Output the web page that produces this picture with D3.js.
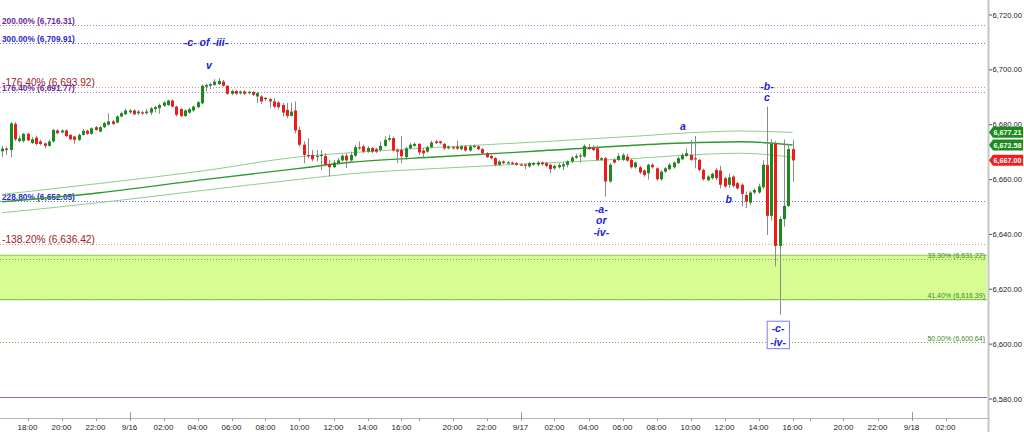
<!DOCTYPE html>
<html><head><meta charset="utf-8">
<script src="https://cdn.jsdelivr.net/npm/d3@7"></script>
<style>html,body{margin:0;padding:0;background:#fff;overflow:hidden}svg{display:block;font-family:"Liberation Sans",Arial,sans-serif}</style>
</head><body><svg id="c" width="1024" height="432"></svg>
<script>
// ---------- DATA (15-minute bars, index 0..186) ----------
const opens = [6670.3,6671.3,6670.8,6680.3,6674.0,6674.0,6676.7,6673.3,6675.3,6673.9,6673.2,6672.3,6673.9,6677.9,6677.2,6677.9,6676.3,6675.7,6674.5,6676.3,6677.8,6676.7,6679.1,6677.5,6679.1,6680.0,6681.2,6680.8,6683.0,6683.8,6684.5,6685.2,6684.2,6684.5,6684.2,6684.4,6685.7,6686.0,6686.9,6687.2,6688.8,6686.6,6685.7,6683.2,6684.4,6685.2,6686.4,6687.8,6693.9,6694.2,6694.5,6694.8,6695.7,6694.2,6691.3,6692.3,6691.5,6692.1,6691.5,6691.9,6690.3,6690.3,6689.3,6689.3,6688.5,6688.1,6687.2,6685.4,6683.2,6685.2,6678.1,6672.7,6669.0,6669.0,6668.4,6668.6,6668.6,6665.6,6664.5,6666.0,6667.0,6668.7,6667.0,6668.7,6671.8,6672.1,6670.2,6671.5,6671.1,6670.8,6672.3,6674.5,6675.1,6670.8,6670.8,6668.2,6671.4,6672.3,6673.0,6670.6,6670.2,6671.8,6673.9,6673.9,6673.0,6671.4,6671.8,6672.0,6671.1,6672.1,6670.6,6672.1,6672.1,6671.1,6669.6,6668.6,6667.8,6665.4,6666.6,6666.1,6666.2,6666.0,6665.5,6665.5,6664.8,6665.4,6665.4,6666.2,6666.0,6665.4,6664.1,6664.5,6664.8,6665.4,6666.6,6668.0,6668.6,6668.4,6671.8,6671.6,6671.4,6667.2,6667.8,6659.3,6667.2,6667.2,6667.2,6668.4,6667.2,6664.5,6664.5,6663.3,6662.3,6665.4,6664.1,6660.1,6662.9,6663.8,6664.5,6666.0,6667.4,6668.6,6669.0,6667.8,6667.2,6663.5,6659.8,6660.5,6663.5,6663.3,6660.5,6658.1,6661.1,6658.7,6658.1,6654.4,6651.6,6655.3,6655.3,6657.2,6665.3,6646.8,6673.0,6635.8,6645.6,6650.4,6671.1];
const highs = [6672.3,6672.0,6681.0,6681.0,6676.0,6677.0,6677.0,6675.5,6676.0,6674.5,6673.5,6674.5,6678.5,6678.3,6678.3,6678.3,6676.5,6676.0,6676.8,6678.5,6678.2,6679.0,6679.5,6679.5,6681.0,6684.2,6681.8,6683.5,6684.8,6685.8,6685.8,6685.6,6685.3,6685.0,6685.8,6686.5,6687.0,6687.7,6688.6,6689.2,6689.2,6687.0,6686.0,6685.6,6686.2,6687.0,6688.6,6694.6,6695.0,6695.3,6696.6,6697.0,6696.3,6694.5,6692.8,6692.6,6692.5,6692.5,6692.4,6692.3,6692.0,6690.8,6690.0,6689.8,6689.7,6688.6,6687.9,6687.9,6687.9,6688.5,6679.3,6673.9,6675.1,6670.8,6670.8,6670.8,6669.6,6667.2,6667.2,6667.8,6669.2,6669.6,6670.2,6672.7,6673.9,6672.7,6672.2,6672.0,6671.6,6673.9,6675.7,6676.3,6675.7,6671.4,6675.9,6672.0,6673.3,6673.6,6673.3,6671.4,6672.4,6674.2,6674.5,6674.2,6673.4,6672.4,6672.2,6674.2,6672.5,6672.5,6672.7,6672.8,6672.6,6671.5,6670.0,6669.0,6668.2,6667.0,6667.0,6666.8,6666.6,6666.4,6665.9,6665.8,6666.4,6666.5,6666.8,6666.6,6666.4,6665.8,6665.5,6666.0,6666.4,6667.0,6668.6,6669.4,6669.6,6672.8,6673.0,6672.5,6672.4,6668.3,6668.3,6666.0,6667.8,6669.6,6669.6,6669.4,6667.6,6666.6,6664.9,6663.7,6665.8,6666.0,6664.5,6663.4,6664.6,6666.0,6666.6,6668.3,6669.6,6671.4,6674.5,6675.9,6667.6,6664.0,6661.6,6662.6,6664.1,6665.0,6661.0,6662.2,6661.6,6659.2,6658.6,6655.6,6655.8,6656.8,6658.5,6667.0,6686.6,6674.7,6674.0,6646.5,6674.6,6673.0,6674.5];
const lows = [6668.2,6669.0,6668.2,6674.0,6673.5,6673.5,6674.0,6673.0,6672.5,6672.5,6671.4,6672.0,6673.5,6676.5,6676.8,6675.5,6674.3,6673.0,6674.0,6676.0,6676.3,6676.3,6677.8,6677.2,6678.7,6679.7,6679.8,6680.5,6682.7,6683.5,6684.0,6683.5,6683.5,6683.6,6683.8,6683.5,6684.5,6684.0,6686.5,6686.8,6686.3,6683.0,6682.8,6682.8,6684.0,6684.8,6686.0,6687.5,6692.1,6693.0,6694.2,6694.5,6693.8,6690.8,6690.8,6690.8,6691.0,6690.8,6691.0,6690.5,6687.9,6687.5,6688.6,6686.0,6686.0,6685.5,6683.0,6682.4,6683.0,6676.9,6672.0,6666.0,6667.8,6666.6,6666.6,6663.5,6664.8,6661.1,6664.2,6665.4,6666.6,6664.2,6666.2,6668.2,6670.8,6669.6,6669.8,6669.6,6669.6,6670.2,6672.0,6673.9,6670.2,6666.0,6666.0,6667.2,6671.0,6671.8,6669.0,6668.2,6669.8,6671.4,6673.0,6672.8,6670.8,6671.0,6671.0,6670.8,6670.7,6670.2,6670.2,6671.5,6670.8,6669.2,6667.8,6667.4,6664.8,6665.0,6665.6,6665.6,6665.3,6665.0,6665.0,6663.8,6664.4,6665.0,6664.8,6665.0,6664.4,6662.3,6663.5,6664.0,6663.4,6664.5,6666.0,6667.5,6666.2,6668.0,6670.8,6670.3,6666.8,6666.8,6653.8,6658.8,6665.8,6666.8,6666.8,6666.5,6664.0,6664.0,6662.0,6661.0,6660.0,6664.0,6659.6,6659.6,6662.4,6663.4,6664.0,6665.6,6667.0,6668.2,6666.8,6664.1,6663.0,6659.6,6659.4,6660.0,6659.9,6656.8,6657.0,6657.0,6657.0,6656.3,6650.2,6649.6,6650.6,6654.6,6654.8,6656.5,6639.8,6645.0,6628.3,6610.7,6642.8,6650.0,6659.2];
const closes = [6671.3,6670.8,6680.5,6674.7,6675.0,6676.7,6674.3,6674.7,6673.0,6673.0,6672.3,6673.9,6678.1,6676.9,6677.9,6675.9,6674.7,6674.5,6676.3,6677.8,6676.7,6678.7,6678.1,6679.1,6680.6,6681.2,6680.3,6683.0,6684.2,6685.2,6685.2,6683.8,6684.8,6684.2,6684.8,6686.0,6686.4,6687.2,6688.1,6688.8,6686.6,6683.6,6683.2,6685.2,6685.7,6686.6,6688.2,6694.2,6694.5,6694.8,6695.7,6696.0,6694.2,6691.3,6692.3,6691.3,6692.1,6691.3,6692.0,6690.9,6691.5,6688.5,6689.8,6688.5,6686.6,6686.4,6684.4,6683.2,6684.8,6677.9,6672.7,6669.0,6668.6,6667.4,6668.7,6669.0,6665.4,6664.5,6666.2,6667.0,6668.7,6667.0,6669.0,6671.8,6671.5,6670.2,6671.5,6670.2,6670.2,6672.3,6674.5,6675.1,6670.6,6670.2,6668.5,6671.4,6672.7,6673.0,6669.9,6669.6,6671.8,6673.5,6673.3,6673.3,6671.4,6672.0,6671.5,6671.3,6672.1,6670.6,6672.1,6672.3,6671.1,6669.6,6668.2,6667.8,6665.4,6666.6,6666.0,6666.3,6665.7,6665.4,6665.4,6665.4,6666.0,6666.0,6666.2,6665.6,6665.0,6663.8,6665.0,6665.3,6665.6,6666.6,6668.0,6668.6,6668.8,6672.3,6671.1,6670.8,6667.2,6667.8,6659.3,6665.4,6666.2,6668.6,6669.0,6666.9,6664.5,6666.2,6662.6,6661.7,6665.4,6664.5,6660.1,6662.9,6664.1,6665.4,6666.2,6667.8,6669.0,6669.6,6667.2,6667.4,6663.5,6660.1,6661.1,6662.1,6660.5,6658.1,6657.5,6660.8,6657.7,6656.8,6654.8,6652.0,6655.3,6656.2,6657.5,6665.4,6646.8,6673.0,6635.8,6645.6,6650.4,6671.1,6667.0];

// moving-average envelope, read at sample bars
const maBars  = [0, 23, 47, 70, 82, 103, 127, 150, 162, 174, 186];
const maUpper = [6654.6,6658.6,6663.1,6668.3,6669.8,6671.8,6673.8,6675.9,6677.1,6677.7,6677.21];
const maMid   = [6651.9,6655.2,6659.9,6664.1,6666.3,6668.3,6670.5,6672.6,6673.4,6673.8,6672.58];
const maLower = [6647.9,6651.6,6656.0,6660.1,6662.1,6664.1,6666.0,6667.8,6669.0,6669.6,6668.1];

// horizontal fib levels
const levelValues = [6716.31, 6709.91, 6693.92, 6691.77, 6652.05, 6636.42, 6631.22, 6616.39, 6600.64];
const levelPcts   = ["200.00%","300.00%","-176.40%","176.40%","228.80%","-138.20%","33.30%","41.40%","50.00%"];
const levelKinds  = ["purple","blue","red","purple","blue","red","green","green","green"];
const zoneRange   = [6632.6, 6616.39];
const baseLine    = 6580.6;

// axis ticks
const yTicks = [6720, 6700, 6680, 6660, 6640, 6620, 6600, 6580];
const xTickBars   = [6,14,22,30,38,46,54,62,70,78,86,94,98,106,114,122,130,138,146,154,162,170,178,186,190,198,206,214,222];
const xTickLabels = ["18:00","20:00","22:00","9/16","02:00","04:00","06:00","08:00","10:00","12:00","14:00","16:00","","20:00","22:00","9/17","02:00","04:00","06:00","08:00","10:00","12:00","14:00","16:00","","20:00","22:00","9/18","02:00"];
const dayBars = [30, 122, 214];

// wave labels
const waveTexts  = ["-c- of -iii-","v","-b-","c","a","b","-a-","or","-iv-","-c-","-iv-"];
const waveBars   = [48, 48.7, 180, 180, 160.2, 171, 141, 141, 141, 182.6, 182.6];
const wavePrices = [6710.0, 6701.8, 6694.0, 6690.0, 6679.5, 6652.8, 6649.1, 6645.1, 6641.0, 6605.8, 6600.9];
const boxedWave  = [9, 10];

// ---------- STYLE ----------
const W = 1024, H = 432;
const kindStyle = {
  purple: {line:"#a47ad8", text:"#6a2c9e", size:8.3, weight:"bold"},
  blue:   {line:"#6d6de6", text:"#2b2bd0", size:8.3, weight:"bold"},
  red:    {line:"#e58a8a", text:"#9a2222", size:10.2, weight:"normal"},
  green:  {line:"#6caf4a", text:"#3a8a22", size:7, weight:"normal"}
};
const svg = d3.select("#c");
const x = d3.scaleLinear().domain([0, 232]).range([2, 988]);
const y = d3.scaleLinear().domain([6580, 6720]).range([399, 15]);
const plotRight = 987;

// zone
svg.append("rect").attr("x",0).attr("width",plotRight)
  .attr("y",y(zoneRange[0])).attr("height",y(zoneRange[1])-y(zoneRange[0]))
  .attr("fill","#d6fc92");
zoneRange.forEach(v=>svg.append("line").attr("x1",0).attr("x2",plotRight)
  .attr("y1",y(v)+0.5).attr("y2",y(v)+0.5).attr("stroke","#92c96a").attr("stroke-width",1.2));

// levels
const fmt = d3.format(",.2f");
levelValues.forEach((v,k)=>{
  const st = kindStyle[levelKinds[k]];
  const yy = Math.round(y(v))+0.5;
  svg.append("line").attr("x1",0).attr("x2",plotRight).attr("y1",yy).attr("y2",yy)
    .attr("stroke",st.line).attr("stroke-width",1).attr("stroke-dasharray","1,2");
  const t = svg.append("text").attr("y",yy-2).attr("font-size",st.size).attr("font-weight",st.weight)
    .attr("fill",st.text).text(`${levelPcts[k]} (${fmt(v)})`);
  if(levelKinds[k]==="green") t.attr("x",985).attr("text-anchor","end");
  else t.attr("x",2);
});
svg.append("line").attr("x1",0).attr("x2",plotRight).attr("y1",Math.round(y(baseLine))+0.5).attr("y2",Math.round(y(baseLine))+0.5)
  .attr("stroke","#7272ee").attr("stroke-width",1.2);

// MA lines
const maLine = arr => d3.line().x((d,i)=>x(maBars[i])).y(d=>y(d)).curve(d3.curveMonotoneX)(arr);
svg.append("path").attr("d",maLine(maUpper)).attr("fill","none").attr("stroke","#8ccf8c").attr("stroke-width",1);
svg.append("path").attr("d",maLine(maLower)).attr("fill","none").attr("stroke","#8ccf8c").attr("stroke-width",1);
svg.append("path").attr("d",maLine(maMid)).attr("fill","none").attr("stroke","#2f9a2f").attr("stroke-width",1.4);

// candles
const bars = d3.range(opens.length);
const cg = svg.append("g");
cg.selectAll("line.w").data(bars).join("line").attr("class","w")
  .attr("x1",i=>Math.round(x(i))+0.5).attr("x2",i=>Math.round(x(i))+0.5)
  .attr("y1",i=>y(highs[i])).attr("y2",i=>y(lows[i]))
  .attr("stroke","#8a8a8a").attr("stroke-width",1);
cg.selectAll("rect.b").data(bars).join("rect").attr("class","b")
  .attr("x",i=>Math.round(x(i))-1).attr("width",3)
  .attr("y",i=>y(Math.max(opens[i],closes[i])))
  .attr("height",i=>Math.max(1.2, Math.abs(y(opens[i])-y(closes[i]))))
  .attr("fill",i=>closes[i]>=opens[i]?"#1d8a1d":"#ee1b1b");

// wave labels
const wg = svg.append("g").attr("font-style","italic").attr("font-weight","bold").attr("font-size",10.5).attr("fill","#2121dc");
const wt = wg.selectAll("text").data(waveTexts).join("text")
  .attr("x",(d,i)=>x(waveBars[i])).attr("y",(d,i)=>y(wavePrices[i]))
  .attr("text-anchor","middle").attr("dominant-baseline","central").text(d=>d);
const bbs = boxedWave.map(k=>wt.nodes()[k].getBBox());
const bx0 = d3.min(bbs,b=>b.x)-3, bx1 = d3.max(bbs,b=>b.x+b.width)+3;
const by0 = d3.min(bbs,b=>b.y)-1, by1 = d3.max(bbs,b=>b.y+b.height)+1;
wg.insert("rect","text").attr("x",bx0).attr("y",by0).attr("width",bx1-bx0).attr("height",by1-by0)
  .attr("fill","#fff").attr("stroke","#7b7bf0").attr("stroke-width",1);

// right axis
svg.append("line").attr("x1",988.5).attr("x2",988.5).attr("y1",0).attr("y2",H).attr("stroke","#c6c6c6").attr("stroke-width",2);
const yg = svg.append("g").attr("font-size",7.6).attr("fill","#222");
yTicks.forEach(v=>{
  yg.append("line").attr("x1",989).attr("x2",992).attr("y1",y(v)).attr("y2",y(v)).attr("stroke","#555");
  yg.append("text").attr("x",992.5).attr("y",y(v)).attr("dominant-baseline","central").text(fmt(v));
});
// badges
const badgeVals = [maUpper[maUpper.length-1], maMid[maMid.length-1], closes[closes.length-1]];
const badgeCols = ["#1d8a1d","#1d8a1d","#f01e1e"];
badgeVals.forEach((v,k)=>{
  const yy = y(v);
  svg.append("path").attr("d",`M989,${yy} L993,${yy-5.5} L1023,${yy-5.5} L1023,${yy+5.5} L993,${yy+5.5} Z`).attr("fill",badgeCols[k]);
  svg.append("text").attr("x",993.5).attr("y",yy+0.5).attr("dominant-baseline","central")
    .attr("font-size",7.6).attr("font-weight","bold").attr("fill","#fff")
    .attr("textLength",28).attr("lengthAdjust","spacingAndGlyphs").text(fmt(v));
});

// bottom axis
svg.append("line").attr("x1",0).attr("x2",988).attr("y1",418.5).attr("y2",418.5).attr("stroke","#b4b4b4");
const xg = svg.append("g").attr("font-size",8).attr("fill","#222");
xTickBars.forEach((b,k)=>{
  const xx = Math.round(x(b))+0.5;
  const isDay = dayBars.includes(b);
  xg.append("line").attr("x1",xx).attr("x2",xx).attr("y1",isDay?412:418).attr("y2",421).attr("stroke","#999");
  if(xTickLabels[k]) xg.append("text").attr("x",x(b)).attr("y",427.5).attr("text-anchor","middle")
    .attr("dominant-baseline","central").text(xTickLabels[k]);
});
</script></body></html>
